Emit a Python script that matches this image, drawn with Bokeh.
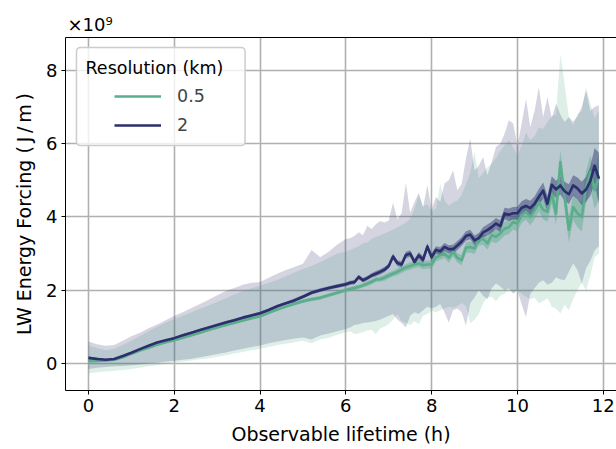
from bokeh.plotting import figure
from bokeh.models import (Legend, LegendItem, Label, BoxAnnotation, LinearAxis,
                          FixedTicker, Range1d)
from bokeh.embed import file_html
from bokeh.resources import INLINE

# ---------------- data (values in units of 1e9 J/m) ----------------
lifetime_h = [0.0, 0.2, 0.4, 0.6, 0.8, 1.0, 1.2, 1.4, 1.6, 1.8,
              2.0, 2.2, 2.4, 2.6, 2.8, 3.0, 3.2, 3.4, 3.6, 3.8,
              4.0, 4.2, 4.4, 4.6, 4.8, 5.0, 5.2, 5.4, 5.6, 5.8,
              6.0, 6.1, 6.2, 6.3, 6.4, 6.5, 6.6, 6.7, 6.8, 6.9,
              7.0, 7.1, 7.2, 7.3, 7.4, 7.5, 7.6, 7.7, 7.8, 7.9,
              8.0, 8.1, 8.2, 8.3, 8.4, 8.5, 8.6, 8.7, 8.8, 8.9,
              9.0, 9.1, 9.2, 9.3, 9.4, 9.5, 9.6, 9.7, 9.8, 9.9,
              10.0, 10.1, 10.2, 10.3, 10.4, 10.5, 10.6, 10.7, 10.8, 10.9,
              11.0, 11.1, 11.2, 11.3, 11.4, 11.5, 11.6, 11.7, 11.8, 11.9]

mean_05km = [0.07, 0.07, 0.08, 0.10, 0.17, 0.26, 0.35, 0.43, 0.51, 0.58,
             0.63, 0.70, 0.77, 0.84, 0.91, 0.98, 1.05, 1.11, 1.17, 1.23,
             1.29, 1.38, 1.47, 1.55, 1.63, 1.70, 1.75, 1.79, 1.86, 1.93,
             2.00, 2.03, 2.06, 2.09, 2.13, 2.18, 2.23, 2.29, 2.30, 2.34,
             2.40, 2.45, 2.50, 2.56, 2.62, 2.66, 2.70, 2.73, 2.68, 2.70,
             2.70, 2.90, 2.95, 3.00, 2.88, 3.05, 2.88, 2.82, 3.16, 3.18,
             3.14, 3.38, 3.40, 3.28, 3.50, 3.46, 3.55, 3.68, 3.72, 3.86,
             3.82, 4.05, 4.14, 4.00, 4.18, 4.40, 4.20, 4.14, 4.64, 4.09,
             5.50, 4.55, 3.65, 4.27, 4.10, 4.00, 4.82, 5.23, 4.73, 5.09]

mean_2km = [0.15, 0.12, 0.10, 0.12, 0.20, 0.29, 0.39, 0.48, 0.57, 0.63,
            0.69, 0.77, 0.84, 0.91, 0.98, 1.05, 1.12, 1.18, 1.25, 1.31,
            1.37, 1.46, 1.56, 1.64, 1.72, 1.82, 1.93, 2.00, 2.06, 2.11,
            2.16, 2.20, 2.22, 2.36, 2.27, 2.33, 2.40, 2.45, 2.50, 2.56,
            2.66, 2.92, 2.74, 2.70, 2.96, 3.00, 2.77, 2.95, 2.83, 3.19,
            2.90, 3.10, 3.06, 3.18, 3.12, 3.12, 3.22, 3.33, 3.48, 3.52,
            3.36, 3.42, 3.58, 3.64, 3.72, 3.82, 3.75, 4.09, 4.06, 4.10,
            4.10, 4.25, 4.30, 4.24, 4.36, 4.55, 4.72, 4.36, 4.88, 4.75,
            4.86, 4.70, 4.62, 4.86, 4.78, 4.64, 4.75, 4.98, 5.40, 5.05]

upper_05km = [0.48, 0.42, 0.36, 0.40, 0.50, 0.62, 0.75, 0.88, 1.00, 1.11,
              1.21, 1.30, 1.40, 1.49, 1.58, 1.68, 1.78, 1.88, 1.98, 2.05,
              2.12, 2.20, 2.28, 2.38, 2.48, 2.58, 2.66, 2.76, 2.88, 3.00,
              3.05, 3.10, 3.15, 3.20, 3.28, 3.30, 3.40, 3.45, 3.50, 3.55,
              3.60, 3.65, 3.72, 3.78, 3.85, 3.95, 4.20, 4.60, 4.30, 4.34,
              4.15, 4.23, 4.90, 4.45, 4.30, 4.40, 4.45, 4.60, 4.90, 5.20,
              5.77, 5.05, 5.20, 5.36, 5.45, 5.60, 5.80, 5.95, 6.10, 5.90,
              5.70, 5.95, 6.30, 6.10, 6.20, 6.45, 6.40, 6.60, 6.75, 6.80,
              8.45, 7.64, 6.70, 6.50, 6.80, 6.90, 7.55, 7.10, 6.70, 6.90]

lower_05km = [-0.27, -0.24, -0.22, -0.20, -0.18, -0.15, -0.12, -0.08, -0.05, -0.01,
              0.03, 0.05, 0.08, 0.11, 0.14, 0.18, 0.22, 0.27, 0.31, 0.36,
              0.40, 0.45, 0.50, 0.54, 0.58, 0.62, 0.55, 0.65, 0.70, 0.78,
              0.85, 0.88, 0.80, 0.82, 0.86, 0.90, 0.92, 0.80, 0.95, 1.00,
              1.07, 1.20, 1.35, 1.15, 1.10, 1.05, 1.15, 1.07, 1.30, 1.35,
              1.44, 1.40, 1.45, 1.50, 1.55, 1.52, 1.57, 1.65, 1.57, 1.09,
              1.20, 1.35, 1.64, 1.80, 1.82, 1.70, 1.85, 1.90, 2.00, 1.95,
              2.00, 1.90, 1.82, 1.75, 1.80, 1.64, 1.70, 1.78, 1.55, 1.50,
              1.36, 1.60, 1.45, 1.75, 2.00, 2.20, 2.00, 2.40, 2.90, 3.00]

upper_2km = [0.60, 0.52, 0.48, 0.50, 0.62, 0.74, 0.84, 0.96, 1.06, 1.18,
             1.30, 1.40, 1.51, 1.62, 1.74, 1.86, 1.98, 2.06, 2.15, 2.20,
             2.22, 2.34, 2.45, 2.55, 2.63, 2.72, 3.10, 2.90, 3.05, 3.25,
             3.40, 3.42, 3.48, 3.58, 3.50, 3.76, 3.67, 3.80, 3.89, 3.85,
             3.90, 4.39, 3.94, 4.10, 4.93, 4.12, 4.40, 4.66, 4.25, 4.88,
             4.20, 4.55, 4.41, 4.91, 5.00, 5.27, 4.73, 4.90, 5.60, 6.14,
             5.27, 5.40, 5.64, 5.14, 5.50, 5.91, 6.00, 6.27, 6.64, 6.55,
             5.95, 6.55, 7.23, 6.45, 6.90, 7.55, 6.73, 7.27, 6.70, 7.09,
             6.80, 6.59, 6.73, 6.60, 6.75, 7.00, 7.45, 6.90, 7.00, 7.05]

lower_2km = [-0.15, -0.12, -0.10, -0.08, -0.07, -0.05, -0.03, 0.00, 0.02, 0.05,
             0.07, 0.10, 0.13, 0.17, 0.21, 0.26, 0.30, 0.35, 0.40, 0.45,
             0.49, 0.55, 0.60, 0.64, 0.68, 0.71, 0.65, 0.76, 0.82, 0.88,
             0.94, 0.98, 1.05, 1.07, 1.10, 1.12, 1.14, 1.16, 1.20, 1.25,
             1.30, 1.35, 1.20, 1.10, 0.98, 1.30, 1.40, 1.35, 1.45, 1.55,
             1.50, 1.55, 1.62, 1.40, 1.12, 1.45, 1.50, 1.40, 1.03, 1.64,
             1.80, 2.00, 1.85, 1.75, 2.05, 2.18, 2.10, 2.00, 2.05, 1.90,
             2.00, 1.60, 1.27, 1.90, 2.05, 2.20, 2.27, 2.15, 2.20, 2.35,
             2.30, 2.27, 2.50, 2.73, 2.55, 2.18, 2.60, 2.80, 3.09, 3.20]

ci_05km = [0.04, 0.04, 0.03, 0.03, 0.03, 0.03, 0.03, 0.03, 0.03, 0.03,
           0.03, 0.03, 0.03, 0.03, 0.03, 0.03, 0.04, 0.04, 0.04, 0.04,
           0.04, 0.04, 0.04, 0.04, 0.05, 0.05, 0.05, 0.05, 0.05, 0.05,
           0.05, 0.06, 0.06, 0.06, 0.06, 0.07, 0.07, 0.07, 0.07, 0.08,
           0.08, 0.08, 0.09, 0.09, 0.09, 0.10, 0.10, 0.10, 0.11, 0.11,
           0.11, 0.12, 0.12, 0.12, 0.13, 0.13, 0.13, 0.14, 0.14, 0.15,
           0.15, 0.16, 0.16, 0.17, 0.17, 0.18, 0.18, 0.19, 0.19, 0.20,
           0.21, 0.21, 0.22, 0.23, 0.24, 0.25, 0.26, 0.27, 0.28, 0.30,
           0.32, 0.33, 0.35, 0.36, 0.38, 0.40, 0.42, 0.45, 0.50, 0.60]

ci_2km = [0.04, 0.04, 0.03, 0.03, 0.03, 0.03, 0.03, 0.03, 0.03, 0.03,
          0.03, 0.03, 0.03, 0.03, 0.03, 0.03, 0.04, 0.04, 0.04, 0.04,
          0.04, 0.04, 0.04, 0.04, 0.05, 0.05, 0.05, 0.05, 0.05, 0.05,
          0.05, 0.06, 0.06, 0.06, 0.06, 0.06, 0.06, 0.07, 0.07, 0.07,
          0.07, 0.08, 0.08, 0.08, 0.09, 0.09, 0.09, 0.09, 0.10, 0.10,
          0.10, 0.10, 0.11, 0.11, 0.11, 0.12, 0.12, 0.12, 0.13, 0.13,
          0.13, 0.14, 0.14, 0.15, 0.15, 0.15, 0.16, 0.16, 0.17, 0.17,
          0.18, 0.18, 0.19, 0.20, 0.20, 0.21, 0.22, 0.22, 0.23, 0.24,
          0.25, 0.26, 0.27, 0.28, 0.30, 0.32, 0.34, 0.40, 0.48, 0.70]

x_ticks = [0, 2, 4, 6, 8, 10, 12]
y_ticks = [0, 2, 4, 6, 8]
series_labels = ["0.5", "2"]
legend_title = "Resolution (km)"

for arr in (mean_05km, mean_2km, upper_05km, lower_05km, upper_2km, lower_2km, ci_05km, ci_2km):
    assert len(arr) == len(lifetime_h)

# ---------------- styling ----------------
FONT = "DejaVu Sans"
TICK_FS = "18px"
LABEL_FS = "19px"
LEG_FS = "17.5px"
GREEN = "#5aae8c"
NAVY = "#2b2f6d"

p = figure(width=616, height=449, output_backend="svg", toolbar_location=None,
           x_range=Range1d(-0.536, 12.31), y_range=Range1d(-0.74, 8.9),
           min_border_left=65, min_border_right=0, min_border_top=37,
           min_border_bottom=59, x_axis_label="Observable lifetime (h)",
           y_axis_label="LW Energy Forcing (\u2009J\u2009/\u2009m\u2009)")
p.outline_line_color = None
p.background_fill_color = "white"

# exponent text of the y axis, shown as a left-aligned title
p.title.text = "×10⁹"
p.title.align = "left"
p.title.text_font = FONT
p.title.text_font_size = "18px"
p.title.text_font_style = "normal"
p.title.text_color = "black"
p.title.standoff = 6
p.title.offset = 2

for ax, ticks in ((p.xaxis, x_ticks), (p.yaxis, y_ticks)):
    ax.ticker = FixedTicker(ticks=ticks)
    ax.minor_tick_line_color = None
    ax.major_tick_in = 0
    ax.major_tick_out = 4
    ax.major_tick_line_color = "black"
    ax.axis_line_color = "black"
    ax.axis_line_width = 1
    ax.major_label_text_font = FONT
    ax.major_label_text_font_size = TICK_FS
    ax.major_label_text_color = "black"
    ax.axis_label_text_font = FONT
    ax.axis_label_text_font_size = LABEL_FS
    ax.axis_label_text_font_style = "normal"
    ax.axis_label_text_color = "black"
    ax.major_label_standoff = 4
p.xaxis.axis_label_standoff = 8
p.yaxis.axis_label_standoff = 8

top_axis = LinearAxis(ticker=FixedTicker(ticks=[]), major_label_text_font_size="0px",
                      major_tick_line_color=None, minor_tick_line_color=None,
                      major_tick_out=0, major_tick_in=0, major_label_standoff=0,
                      axis_line_color="black", axis_line_width=1)
p.add_layout(top_axis, "above")

p.xgrid.ticker = FixedTicker(ticks=x_ticks)
p.ygrid.ticker = FixedTicker(ticks=y_ticks)
p.grid.grid_line_color = "#b0b0b0"
p.grid.grid_line_width = 1.6

# spread bands
p.varea(x=lifetime_h, y1=lower_05km, y2=upper_05km, fill_color=GREEN, fill_alpha=0.2)
p.varea(x=lifetime_h, y1=lower_2km, y2=upper_2km, fill_color=NAVY, fill_alpha=0.2)

# confidence bands
ci05_lo = [m - c for m, c in zip(mean_05km, ci_05km)]
ci05_hi = [m + c for m, c in zip(mean_05km, ci_05km)]
ci2_lo = [m - c for m, c in zip(mean_2km, ci_2km)]
ci2_hi = [m + c for m, c in zip(mean_2km, ci_2km)]
p.varea(x=lifetime_h, y1=ci05_lo, y2=ci05_hi, fill_color=GREEN, fill_alpha=0.45)
p.varea(x=lifetime_h, y1=ci2_lo, y2=ci2_hi, fill_color=NAVY, fill_alpha=0.45)

l05 = p.line(lifetime_h, mean_05km, line_color=GREEN, line_width=2.6, line_join="round")
l2 = p.line(lifetime_h, mean_2km, line_color=NAVY, line_width=2.6, line_join="round")

# legend frame + title
box = BoxAnnotation(left=-0.28, right=3.65, top=8.63, bottom=5.95,
                    fill_color="white", fill_alpha=0.8, line_color="#cccccc",
                    line_alpha=1.0, line_width=1.5, border_radius=4)
p.add_layout(box)
p.add_layout(Label(x=-0.07, y=8.08, text=legend_title, text_font=FONT,
                   text_font_size=LEG_FS, text_baseline="middle", text_color="black"))

legend = Legend(items=[LegendItem(label=series_labels[0], renderers=[l05]),
                       LegendItem(label=series_labels[1], renderers=[l2])],
                location=(49, 255), padding=0, margin=0, spacing=9,
                label_height=20, glyph_height=20, glyph_width=47,
                label_standoff=16, label_text_font=FONT, label_text_font_size=LEG_FS,
                background_fill_alpha=0, border_line_color=None)
p.add_layout(legend)

open("out.html", "w").write(file_html(p, INLINE))
